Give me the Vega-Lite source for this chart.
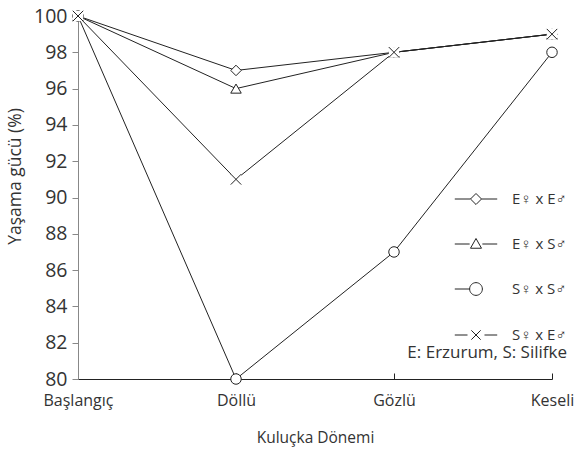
{
  "$schema": "https://vega.github.io/schema/vega-lite/v6.json",
  "width": 474,
  "height": 363,
  "padding": {"left": 6, "top": 6, "right": 5, "bottom": 5},
  "background": "white",
  "config": {
    "font": "Open Sans",
    "view": {"stroke": null}
  },
  "data": {
    "values": [
      {"stage": "Başlangıç", "series": "E♀ x E♂", "value": 100},
      {"stage": "Döllü", "series": "E♀ x E♂", "value": 97},
      {"stage": "Gözlü", "series": "E♀ x E♂", "value": 98},
      {"stage": "Keseli", "series": "E♀ x E♂", "value": 99},
      {"stage": "Başlangıç", "series": "E♀ x S♂", "value": 100},
      {"stage": "Döllü", "series": "E♀ x S♂", "value": 96},
      {"stage": "Gözlü", "series": "E♀ x S♂", "value": 98},
      {"stage": "Keseli", "series": "E♀ x S♂", "value": 99},
      {"stage": "Başlangıç", "series": "S♀ x S♂", "value": 100},
      {"stage": "Döllü", "series": "S♀ x S♂", "value": 80},
      {"stage": "Gözlü", "series": "S♀ x S♂", "value": 87},
      {"stage": "Keseli", "series": "S♀ x S♂", "value": 98},
      {"stage": "Başlangıç", "series": "S♀ x E♂", "value": 100},
      {"stage": "Döllü", "series": "S♀ x E♂", "value": 91},
      {"stage": "Gözlü", "series": "S♀ x E♂", "value": 98},
      {"stage": "Keseli", "series": "S♀ x E♂", "value": 99}
    ]
  },
  "encoding": {
    "x": {
      "field": "stage", "type": "ordinal",
      "sort": ["Başlangıç", "Döllü", "Gözlü", "Keseli"],
      "scale": {"type": "point", "padding": 0},
      "axis": {"title": "Kuluçka Dönemi", "labelAngle": 0, "domainColor": "#222", "tickColor": "#222", "tickSize": -6, "labelPadding": 19, "titlePadding": 22, "labelFont": "Open Sans", "titleFont": "Open Sans", "labelFontSize": 16, "titleFontSize": 15.5, "titleFontWeight": "normal", "labelColor": "#333", "titleColor": "#333", "grid": false}
    },
    "y": {
      "field": "value", "type": "quantitative",
      "scale": {"domain": [80, 100], "nice": false, "zero": false},
      "axis": {"title": "Yaşama gücü (%)", "titleY": 160, "values": [80, 82, 84, 86, 88, 90, 92, 94, 96, 98, 100], "domainColor": "#888", "tickColor": "#888", "tickSize": 6, "labelPadding": 5, "titlePadding": 9, "labelFont": "Open Sans", "titleFont": "Open Sans", "labelFontSize": 19.5, "titleFontSize": 17.5, "titleFontWeight": "normal", "labelColor": "#333", "titleColor": "#333", "grid": false}
    }
  },
  "layer": [
    {
      "mark": {"type": "line", "color": "#222", "strokeWidth": 1},
      "encoding": {"detail": {"field": "series"}}
    },
    {
      "transform": [{"filter": "datum.series !== 'S♀ x E♂'"}],
      "mark": {"type": "point", "filled": false, "color": "#222", "fill": "white", "strokeWidth": 1, "opacity": 1, "size": 110},
      "encoding": {
        "shape": {
          "field": "series", "type": "nominal",
          "scale": {"domain": ["E♀ x E♂", "E♀ x S♂", "S♀ x S♂"], "range": ["diamond", "triangle-up", "circle"]},
          "legend": null
        }
      }
    },
    {
      "transform": [{"filter": "datum.series === 'S♀ x E♂'"}],
      "mark": {"type": "point", "shape": "square", "filled": true, "color": "white", "size": 110, "opacity": 1}
    },
    {
      "transform": [{"filter": "datum.series === 'S♀ x E♂'"}],
      "mark": {"type": "point", "shape": "M-1,-1L1,1M-1,1L1,-1", "filled": false, "color": "#222", "strokeWidth": 1, "opacity": 1, "size": 110}
    },
    {
      "mark": {"type": "point", "opacity": 0, "filled": false},
      "encoding": {
        "shape": {
          "field": "series", "type": "nominal",
          "scale": {"domain": ["E♀ x E♂", "E♀ x S♂", "S♀ x S♂", "S♀ x E♂"], "range": [
            "M-1,0L-0.26,0M0.26,0L1,0M0,-0.26L0.26,0L0,0.26L-0.26,0Z",
            "M-1,0L-0.3,0M0.3,0L1,0M0,-0.26L0.26,0.2L-0.26,0.2Z",
            "M-1,0L-0.3,0M0.3,0A0.3,0.3 0 1,1 -0.3,0A0.3,0.3 0 1,1 0.3,0Z",
            "M-1,0L-0.4,0M0.4,0L1,0M-0.22,-0.22L0.22,0.22M-0.22,0.22L0.22,-0.22"
          ]},
          "legend": {
            "orient": "none", "legendX": 329, "legendY": 161,
            "title": "E: Erzurum, S: Silifke", "titleOrient": "bottom", "titleAnchor": "end",
            "titleFont": "Open Sans", "titleFontSize": 17, "titleFontWeight": "normal", "titleColor": "#333", "titlePadding": 2,
            "labelFont": "Open Sans", "labelFontSize": 15, "labelColor": "#333", "labelOffset": 14,
            "symbolSize": 1800, "symbolOpacity": 1, "symbolFillColor": "white", "symbolStrokeColor": "#222", "symbolStrokeWidth": 1,
            "rowPadding": 15
          }
        }
      }
    }
  ],
  "resolve": {"scale": {"shape": "independent"}}
}
